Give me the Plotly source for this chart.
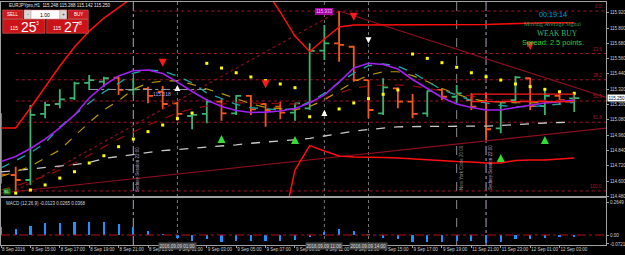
import plotly.graph_objects as go

# ---------------- data ----------------
bars = list(range(40))
tick_bars = [0, 2, 4, 6, 8, 10, 12, 14, 16, 18, 20, 22, 24, 26, 28, 30, 32, 34, 36, 38]
tick_text = ["8 Sep 2016", "8 Sep 15:00", "8 Sep 17:00", "8 Sep 19:00", "8 Sep 21:00",
             "8 Sep 23:00", "9 Sep 01:00", "9 Sep 03:00", "9 Sep 05:00", "9 Sep 07:00",
             "9 Sep 09:00", "9 Sep 11:00", "9 Sep 13:00", "9 Sep 15:00", "9 Sep 17:00",
             "9 Sep 19:00", "11 Sep 21:00", "11 Sep 23:00", "12 Sep 01:00", "12 Sep 03:00"]

open_ = [115.100, 114.647, 114.608, 115.126, 115.204, 115.249, 115.369, 115.379, 115.410, 115.314,
         115.322, 115.300, 115.209, 115.110, 115.126, 115.222, 115.131, 115.267, 115.204, 115.183,
         115.136, 115.170, 115.622, 115.680, 115.653, 115.392, 115.131, 115.327, 115.222, 115.131,
         115.314, 115.261, 115.235, 115.222, 115.013, 115.235, 115.406, 115.188, 115.267, 115.248]
high_ = [115.131, 114.712, 115.196, 115.222, 115.319, 115.379, 115.431, 115.418, 115.418, 115.406,
         115.340, 115.345, 115.222, 115.126, 115.241, 115.241, 115.274, 115.274, 115.209, 115.222,
         115.209, 115.680, 115.824, 115.933, 115.660, 115.395, 115.406, 115.335, 115.282, 115.308,
         115.327, 115.353, 115.288, 115.288, 115.222, 115.424, 115.410, 115.327, 115.300, 115.288]
low_ = [114.580, 114.522, 114.569, 115.092, 115.170, 115.235, 115.314, 115.340, 115.274, 115.274,
        115.209, 115.162, 115.073, 115.006, 115.053, 115.073, 115.118, 115.118, 115.026, 115.084,
        115.073, 115.157, 115.549, 115.536, 115.379, 115.092, 115.118, 115.170, 115.092, 115.104,
        115.235, 115.209, 115.157, 114.922, 114.974, 115.209, 115.157, 115.118, 115.196, 115.142]
close_ = [114.650, 114.608, 115.118, 115.196, 115.241, 115.366, 115.392, 115.406, 115.314, 115.319,
          115.267, 115.204, 115.126, 115.118, 115.222, 115.131, 115.267, 115.162, 115.157, 115.136,
          115.209, 115.620, 115.680, 115.667, 115.392, 115.157, 115.335, 115.222, 115.126, 115.308,
          115.261, 115.288, 115.183, 115.006, 115.214, 115.413, 115.188, 115.267, 115.235, 115.250]

ma_purple = [114.753, 114.792, 114.855, 114.929, 115.016, 115.118, 115.251, 115.349, 115.424, 115.465,
             115.471, 115.443, 115.376, 115.302, 115.235, 115.184, 115.153, 115.137, 115.140, 115.149,
             115.169, 115.212, 115.275, 115.376, 115.486, 115.523, 115.514, 115.478, 115.396, 115.326,
             115.255, 115.204, 115.177, 115.157, 115.157, 115.177, 115.196, 115.212, 115.222, 115.235]
ma_teal = [114.702, 114.761, 114.820, 114.898, 115.024, 115.118, 115.212, 115.298, 115.365, 115.447,
           115.471, 115.463, 115.424, 115.369, 115.290, 115.247, 115.200, 115.175, 115.165, 115.157,
           115.169, 115.221, 115.287, 115.374, 115.445, 115.504, 115.519, 115.500, 115.451, 115.384,
           115.314, 115.275, 115.231, 115.212, 115.192, 115.183, 115.183, 115.192, 115.204, 115.216]
ma_olive = [114.635, 114.675, 114.714, 114.780, 114.843, 114.953, 115.059, 115.157, 115.230, 115.319,
            115.369, 115.384, 115.387, 115.358, 115.323, 115.286, 115.246, 115.206, 115.177, 115.165,
            115.158, 115.184, 115.235, 115.309, 115.378, 115.429, 115.457, 115.457, 115.426, 115.380,
            115.326, 115.282, 115.243, 115.224, 115.217, 115.214, 115.213, 115.213, 115.218, 115.222]
ma_darkred = [114.529, 114.561, 114.600, 114.639, 114.686, 114.741, 114.804, 114.867, 114.929, 114.984,
              115.039, 115.086, 115.133, 115.165, 115.188, 115.204, 115.212, 115.212, 115.208, 115.204,
              115.204, 115.220, 115.251, 115.290, 115.329, 115.345, 115.353, 115.353, 115.345, 115.329,
              115.306, 115.282, 115.267, 115.243, 115.235, 115.235, 115.231, 115.231, 115.231, 115.231]
ma_long = [114.671, 114.682, 114.694, 114.706, 114.714, 114.729, 114.745, 114.777, 114.792, 114.808,
           114.824, 114.839, 114.847, 114.855, 114.865, 114.873, 114.884, 114.896, 114.906, 114.914,
           114.920, 114.934, 114.953, 114.973, 114.991, 115.004, 115.016, 115.025, 115.027, 115.027,
           115.028, 115.029, 115.031, 115.031, 115.035, 115.043, 115.047, 115.055, 115.059, 115.063]
band_upper = [115.016, 115.016, 115.173, 115.337, 115.502, 115.651, 115.776, 115.878, 115.965, 116.043,
              116.114, 116.400, 116.400, 116.400, 116.400, 116.400, 116.400, 116.400, 116.098, 115.925,
              115.737, 115.616, 115.714, 115.808, 115.824, 115.824, 115.824, 115.824, 115.824, 115.824,
              115.824, 115.824, 115.824, 115.827, 115.831, 115.835, 115.842, 115.842, 115.842, 115.842]
band_lower = [114.150, 114.150, 114.150, 114.150, 114.150, 114.150, 114.150, 114.150, 114.150, 114.150,
              114.150, 114.150, 114.150, 114.150, 114.150, 114.150, 114.150, 114.150, 114.150, 114.150,
              114.686, 114.878, 114.835, 114.796, 114.788, 114.788, 114.784, 114.780, 114.773, 114.765,
              114.757, 114.753, 114.749, 114.741, 114.741, 114.761, 114.765, 114.765, 114.773, 114.780]
sar = [None, 114.505, 114.529, 114.569, 114.623, 114.673, 114.741, 114.798, 114.869, 114.929,
       114.987, 115.039, 115.090, 115.133, 115.523, 115.486, 115.449, 115.416, 115.387, 115.361,
       115.332, 115.104, 115.131, 115.165, 115.212, 115.246, 115.280, 115.314, 115.596, 115.562,
       115.528, 115.492, 115.449, 115.418, 115.392, 115.361, 115.340, 115.319, 115.300, 115.288]
macd_hist = [0.064, 0.048, 0.072, 0.096, 0.100, 0.104, 0.104, 0.104, 0.088, 0.064,
             0.032, 0.008, -0.024, -0.048, -0.032, -0.056, -0.048, -0.048, -0.048, -0.048,
             -0.040, -0.010, 0.024, 0.046, 0.032, 0.004, -0.022, -0.032, -0.056, -0.056,
             -0.056, -0.048, -0.048, -0.064, -0.056, -0.032, -0.032, -0.026, -0.016, -0.014]

sell_bars, sell_price = [11, 18, 24, 36], [115.496, 115.327, 115.857, 115.627]
buy_bars, buy_price = [15, 20, 34, 37], [114.961, 114.953, 114.812, 114.953]
wdown_bars, wdown_price = [25], [115.680]
wup_bars, wup_price = [12, 22], [115.353, 115.157]

fib_high, fib_low = 115.933, 114.522
fib_ratios = [0.0, 0.236, 0.382, 0.5, 0.618, 1.0]
fib_labels = ["0.0", "23.6", "38.2", "50.0", "61.8", "100.0"]
fib_start = [9, 1, 1, 1, 1, 1]

trend_up = ([0, 42], [114.506, 115.025])
trend_down = ([23, 42], [115.933, 115.224])
trend_dotted = ([1, 23], [114.522, 115.933])
level_318 = ([6, 14], [115.318, 115.318])

vlines = [(9, "#b9a0c8", "dashdot"), (12, "#7a7a7a", "dot"), (22, "#7a7a7a", "dot"),
          (25, "#7a7a7a", "dot"), (31, "#8a8a8a", "dash"), (33, "#b9a0c8", "dashdot")]
price_ticks = [114.480 + 0.12 * k for k in range(13)]
rect_box = ([32, 39], [115.222, 115.282])

# ---------------- geometry ----------------
W, H = 625, 255
ML, MR, MT, MB = 1, 19, 2, 10
PW, PH = W - ML - MR, H - MT - MB
X0, X1 = -0.001, 41.16
Y_MAIN = (114.4745, 116.004)
Y_MACD = (-0.0803, 0.305)
split = (H - MB - 197) / PH


def px(x):
    return (x - ML) / PW


def py(y):
    return (H - MB - y) / PH


fig = go.Figure()

shapes = []
annotations = []
for r, lab, s in zip(fib_ratios, fib_labels, fib_start):
    lvl = fib_high - r * (fib_high - fib_low)
    shapes.append(dict(type="line", xref="x", yref="y", x0=s, x1=X1, y0=lvl, y1=lvl,
                       line=dict(color="#a3162c", width=1, dash="dot"), layer="below"))
    annotations.append(dict(xref="paper", yref="y", x=px(604), y=lvl, text=lab, showarrow=False,
                            xanchor="right", yanchor="bottom",
                            font=dict(size=4.5, color="#b0182e", family="Liberation Sans")))

for b, c, d in vlines:
    shapes.append(dict(type="line", xref="x", yref="paper", x0=b, x1=b, y0=0, y1=1,
                       line=dict(color=c, width=1, dash=d), layer="below"))

shapes.append(dict(type="line", xref="x2", yref="y2", x0=X0, x1=X1, y0=0, y1=0,
                   line=dict(color="#c01010", width=1, dash="dashdot")))
shapes.append(dict(type="rect", xref="x", yref="y", x0=rect_box[0][0] + 0.05, x1=rect_box[0][1] - 0.05,
                   y0=rect_box[1][0], y1=rect_box[1][1], line=dict(color="#ff1a1a", width=1.3)))

fig.add_trace(go.Scatter(x=level_318[0], y=level_318[1], mode="lines",
                         line=dict(color="#9a9aa8", width=1, dash="dashdot"), xaxis="x", yaxis="y"))
fig.add_trace(go.Scatter(x=trend_up[0], y=trend_up[1], mode="lines",
                         line=dict(color="#8b0f1e", width=1.2), xaxis="x", yaxis="y"))
fig.add_trace(go.Scatter(x=trend_down[0], y=trend_down[1], mode="lines",
                         line=dict(color="#8b0f1e", width=1.2), xaxis="x", yaxis="y"))
fig.add_trace(go.Scatter(x=trend_dotted[0], y=trend_dotted[1], mode="lines",
                         line=dict(color="#8b0f1e", width=1.2, dash="dot"), xaxis="x", yaxis="y"))

fig.add_trace(go.Scatter(x=bars, y=ma_long, mode="lines",
                         line=dict(color="#c8c8c8", width=1.3, dash="dash"), xaxis="x", yaxis="y"))
fig.add_trace(go.Scatter(x=bars, y=ma_darkred, mode="lines",
                         line=dict(color="#9a0a0a", width=1.2, dash="dash"), xaxis="x", yaxis="y"))
fig.add_trace(go.Scatter(x=bars, y=band_upper, mode="lines",
                         line=dict(color="#ff0d0d", width=1.5), xaxis="x", yaxis="y"))
fig.add_trace(go.Scatter(x=bars, y=band_lower, mode="lines",
                         line=dict(color="#ff0d0d", width=1.5), xaxis="x", yaxis="y"))

fig.add_trace(go.Ohlc(x=bars, open=open_, high=high_, low=low_, close=close_,
                      increasing=dict(line=dict(color="#3cb371", width=1.8)),
                      decreasing=dict(line=dict(color="#f2581c", width=1.8)),
                      tickwidth=0.34, xaxis="x", yaxis="y"))

fig.add_trace(go.Scatter(x=bars, y=ma_olive, mode="lines",
                         line=dict(color="#b8960b", width=1.2, dash="dash"), xaxis="x", yaxis="y"))
fig.add_trace(go.Scatter(x=bars, y=ma_teal, mode="lines",
                         line=dict(color="#1aa8a8", width=1.3, dash="dash"), xaxis="x", yaxis="y"))
fig.add_trace(go.Scatter(x=bars, y=ma_purple, mode="lines",
                         line=dict(color="#a020f0", width=1.6), xaxis="x", yaxis="y"))

fig.add_trace(go.Scatter(x=bars, y=sar, mode="markers",
                         marker=dict(symbol="square", size=3, color="#ffff00"), xaxis="x", yaxis="y"))
fig.add_trace(go.Scatter(x=sell_bars, y=sell_price, mode="markers",
                         marker=dict(symbol="arrow-down", size=8, color="#ff1a1a"), xaxis="x", yaxis="y"))
fig.add_trace(go.Scatter(x=buy_bars, y=buy_price, mode="markers",
                         marker=dict(symbol="arrow-up", size=8, color="#33dd33"), xaxis="x", yaxis="y"))
fig.add_trace(go.Scatter(x=wdown_bars, y=wdown_price, mode="markers",
                         marker=dict(symbol="arrow-down", size=6, color="#ffffff"), xaxis="x", yaxis="y"))
fig.add_trace(go.Scatter(x=wup_bars, y=wup_price, mode="markers",
                         marker=dict(symbol="arrow-up", size=6, color="#ffffff"), xaxis="x", yaxis="y"))

fig.add_trace(go.Bar(x=bars, y=macd_hist, width=0.15, marker=dict(color="#1e90ff", line=dict(width=0)),
                     xaxis="x2", yaxis="y2"))

font_small = dict(size=4.5, color="#d0d0d0", family="Liberation Sans")


def note(x, y, text, size=4.5, color="#d0d0d0", family="Liberation Sans", xanchor="center",
         yanchor="middle", bg=None, angle=0):
    d = dict(xref="paper", yref="paper", x=px(x), y=py(y), text=text, showarrow=False,
             xanchor=xanchor, yanchor=yanchor, textangle=angle,
             font=dict(size=size, color=color, family=family), borderpad=0)
    if bg:
        d["bgcolor"] = bg
    annotations.append(d)


note(8, 5, "EURJPYpro,H1  115.248 115.288 115.142 115.250", xanchor="left", color="#e8e8e8")
for (x0, y0, x1, y1, fill) in [(2.7, 10, 22.7, 19, "#cc1a20"), (24, 10, 66.7, 19, "#ffffff"),
                               (24, 10, 31, 19, "#d8d8d8"), (59.7, 10, 66.7, 19, "#d8d8d8"),
                               (68.3, 10, 88.3, 19, "#cc1a20"), (2.7, 19.5, 45, 33.3, "#cc1418"),
                               (46.7, 19.5, 88.3, 33.3, "#cc1418")]:
    shapes.append(dict(type="rect", xref="paper", yref="paper", x0=px(x0), x1=px(x1),
                       y0=py(y1), y1=py(y0), fillcolor=fill, line=dict(color="#e07070", width=0.5)))
note(12.7, 14.6, "SELL", size=4.5, color="#ffffff")
note(78.3, 14.6, "BUY", size=4.5, color="#ffffff")
note(45.3, 14.6, "1.00", size=5, color="#000000")
note(27.5, 14.4, "-", size=5, color="#404040")
note(63.2, 14.4, "+", size=5, color="#404040")
note(13.5, 27.8, "115", size=5, color="#ffffff")
note(28.5, 26.6, "25", size=14, color="#ffffff")
note(37.5, 22.5, "3", size=5, color="#ffffff")
note(56.5, 27.8, "115", size=5, color="#ffffff")
note(71.5, 26.6, "27", size=14, color="#ffffff")
note(80.5, 22.5, "8", size=5, color="#ffffff")

note(553, 15, "00:19:14", size=7.2, color="#00a2e8")
note(552, 24, "Moving Average Signal", size=6, color="#3a9a66", family="Liberation Serif")
note(557, 33.3, "WEAK BUY", size=7.5, color="#3cb371", family="Liberation Serif")
note(553, 42.7, "Spread: 2.5 points.", size=7.4, color="#32cd32")

annotations.append(dict(xref="x", yref="y", x=22.0, y=115.933, text="115.933", showarrow=False,
                        font=dict(size=4.5, color="#f0c0f0", family="Liberation Sans"),
                        bgcolor="#a000a0", bordercolor="#e000e0", borderwidth=0.5, borderpad=0.5))
annotations.append(dict(xref="x", yref="y", x=10.95, y=115.318, text="115.318", showarrow=False,
                        yanchor="top", font=dict(size=5, color="#b8a8e0", family="Liberation Sans")))
annotations.append(dict(xref="paper", yref="y", x=px(607), y=115.250, text="115.250", showarrow=False,
                        xanchor="left", font=dict(size=4.5, color="#000000", family="Liberation Sans"),
                        bgcolor="#ffffff", borderpad=0.5))
note(7, 191.5, "SL", size=4, color="#c8ffc8", bg="#1e7b1e")
note(5, 203, "MACD (12,26,9) -0.0123 0.0265 0.0368", xanchor="left", color="#d8d8d8")

note(137, 170, "Sydney Session 22:00", size=4.5, color="#b9a0c8", angle=-90)
note(461, 168, "New York Close 20:00", size=4.5, color="#909090", angle=-90)
note(490, 168, "Sydney Session 22:00", size=4.5, color="#b9a0c8", angle=-90)

for b, t in [(12, "2016.09.09 01:00"), (22, "2016.09.09 11:00"), (25, "2016.09.09 14:00")]:
    annotations.append(dict(xref="x2", yref="paper", x=b, y=py(249.5), text=t, showarrow=False,
                            font=dict(size=4.5, color="#d8d8d8", family="Liberation Sans"),
                            bgcolor="#4a4a4a", borderpad=0.5))

axis_common = dict(showgrid=False, zeroline=False, showline=True, mirror=True,
                   linecolor="#a0a0a0", linewidth=1, automargin=False)

fig.update_layout(
    width=W, height=H, margin=dict(l=ML, r=MR, t=MT, b=MB, autoexpand=False),
    paper_bgcolor="#000000", plot_bgcolor="#000000", showlegend=False,
    xaxis=dict(domain=[0, 1], range=[X0, X1], anchor="y", showticklabels=False, ticks="",
               rangeslider=dict(visible=False), **axis_common),
    yaxis=dict(domain=[split, 1], range=list(Y_MAIN), side="right", anchor="x",
               tickvals=price_ticks, ticktext=[f"{v:.3f}" for v in price_ticks],
               ticks="outside", ticklen=2, tickcolor="#a0a0a0", tickfont=font_small, **axis_common),
    xaxis2=dict(domain=[0, 1], range=[X0, X1], anchor="y2", matches="x", tickangle=0,
                tickvals=tick_bars, ticktext=tick_text, ticklabelposition="outside right",
                ticks="outside", ticklen=2, tickcolor="#a0a0a0", tickfont=font_small, **axis_common),
    yaxis2=dict(domain=[0, split], range=list(Y_MACD), side="right", anchor="x2",
                tickvals=[0.2649, 0, -0.0721], ticktext=["0.2649", "0.00", "-0.0721"],
                ticks="outside", ticklen=2, tickcolor="#a0a0a0", tickfont=font_small, **axis_common),
    shapes=shapes, annotations=annotations, bargap=0,
)

fig.write_html("out.html")
